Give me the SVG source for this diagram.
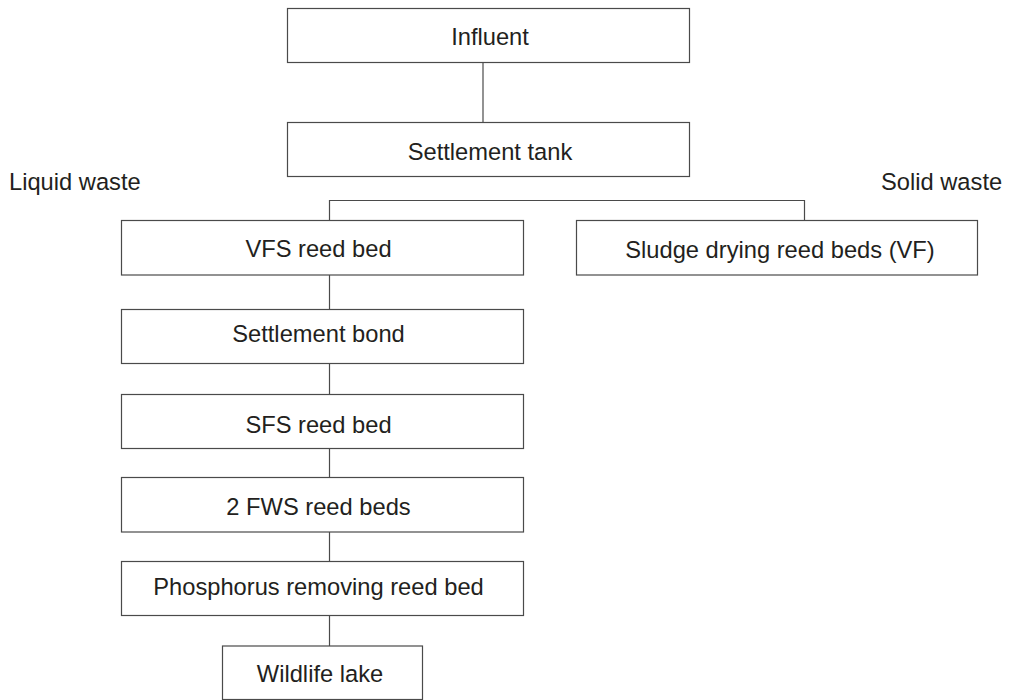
<svg xmlns="http://www.w3.org/2000/svg" width="1009" height="700" viewBox="0 0 1009 700">
  <style>
    .box { fill: #ffffff; stroke: #4a4a4a; stroke-width: 1.2; }
    .lbl { font-family: "Liberation Sans", Arial, sans-serif; font-size: 23.7px; fill: #231f20; text-anchor: middle; }
    .side { font-family: "Liberation Sans", Arial, sans-serif; font-size: 23.7px; fill: #231f20; }
    .wire { fill: none; stroke: #4a4a4a; stroke-width: 1.2; }
  </style>
  <rect width="1009" height="700" fill="#ffffff"/>

  <!-- connectors -->
  <g id="connectors">
    <line class="wire" x1="483" y1="62.5" x2="483" y2="122.5"/>
    <path class="wire" d="M329.5 220.5 V200.5 H804.5 V220.5"/>
    <line class="wire" x1="329.5" y1="275" x2="329.5" y2="309.5"/>
    <line class="wire" x1="329.5" y1="363.5" x2="329.5" y2="394.5"/>
    <line class="wire" x1="329.5" y1="448.5" x2="329.5" y2="477.5"/>
    <line class="wire" x1="329.5" y1="532" x2="329.5" y2="561.5"/>
    <line class="wire" x1="329.5" y1="615.5" x2="329.5" y2="646"/>
  </g>

  <!-- branch labels -->
  <text class="side" x="9" y="190">Liquid waste</text>
  <text class="side" x="881" y="190">Solid waste</text>

  <g id="influent">
    <rect class="box" x="287.5" y="8.5" width="402" height="54"/>
    <text class="lbl" x="490" y="45">Influent</text>
  </g>
  <g id="settlement-tank">
    <rect class="box" x="287.5" y="122.5" width="402" height="54"/>
    <text class="lbl" x="490" y="160">Settlement tank</text>
  </g>
  <g id="vfs-reed-bed">
    <rect class="box" x="121.5" y="220.5" width="402" height="54.5"/>
    <text class="lbl" x="318.5" y="256.7">VFS reed bed</text>
  </g>
  <g id="sludge-drying">
    <rect class="box" x="576.5" y="220.5" width="401" height="54.5"/>
    <text class="lbl" x="780" y="258.3">Sludge drying reed beds (VF)</text>
  </g>
  <g id="settlement-bond">
    <rect class="box" x="121.5" y="309.5" width="402" height="54"/>
    <text class="lbl" x="318.5" y="341.7">Settlement bond</text>
  </g>
  <g id="sfs-reed-bed">
    <rect class="box" x="121.5" y="394.5" width="402" height="54"/>
    <text class="lbl" x="318.5" y="432.7">SFS reed bed</text>
  </g>
  <g id="fws-reed-beds">
    <rect class="box" x="121.5" y="477.5" width="402" height="54.5"/>
    <text class="lbl" x="318.5" y="515">2 FWS reed beds</text>
  </g>
  <g id="phosphorus-bed">
    <rect class="box" x="121.5" y="561.5" width="402" height="54"/>
    <text class="lbl" x="318.5" y="595.3">Phosphorus removing reed bed</text>
  </g>
  <g id="wildlife-lake">
    <rect class="box" x="222.5" y="646" width="200" height="53.5"/>
    <text class="lbl" x="320" y="681.7">Wildlife lake</text>
  </g>
</svg>
